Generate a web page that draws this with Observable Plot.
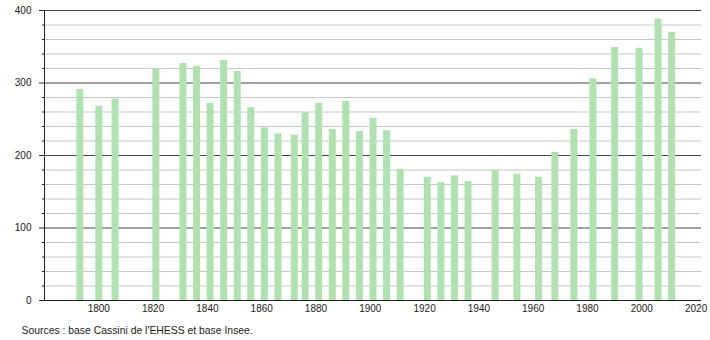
<!DOCTYPE html>
<html>
<head>
<meta charset="utf-8">
<script src="https://cdn.jsdelivr.net/npm/d3@7"></script>
<script src="https://cdn.jsdelivr.net/npm/@observablehq/plot@0.6"></script>
<style>
  html, body { margin: 0; padding: 0; background: white; }
</style>
</head>
<body>
<div id="chart"></div>
<script>
const years = [1793,1800,1806,1821,1831,1836,1841,1846,1851,1856,1861,1866,1872,1876,1881,1886,1891,1896,1901,1906,1911,1921,1926,1931,1936,1946,1954,1962,1968,1975,1982,1990,1999,2006,2011];
const population = [291,268,278,320,327,323,272,331,316,266,238,230,228,259,272,236,275,233,251,234,181,170,163,172,164,179,174,170,204,236,306,349,348,388,370];
const yMajorTicks = [0,100,200,300,400];
const yMinorTicks = [20,40,60,80,120,140,160,180,220,240,260,280,320,340,360,380];
const xTicks = [1800,1820,1840,1860,1880,1900,1920,1940,1960,1980,2000,2020];
const caption = "Sources : base Cassini de l'EHESS et base Insee.";

const data = years.map((year, i) => ({year, pop: population[i]}));

const chart = Plot.plot({
  width: 710,
  height: 340,
  marginLeft: 44,
  marginRight: 9,
  marginTop: 10,
  marginBottom: 40,
  style: {fontFamily: "'Liberation Sans', Arial, sans-serif", fontSize: "10px", color: "#222", background: "white"},
  x: {domain: [1780, 2022]},
  y: {domain: [0, 400]},
  marks: [
    Plot.ruleY(yMinorTicks, {stroke: "#c6c6c6", strokeWidth: 1}),
    Plot.ruleY(yMajorTicks, {stroke: "#444", strokeWidth: 1}),
    Plot.ruleX(data, {x: "year", y1: 0, y2: "pop", stroke: "#b0e2b0", strokeWidth: 7}),
    Plot.ruleX([1780], {stroke: "#222", strokeWidth: 1}),
    Plot.ruleY([0], {stroke: "#222", strokeWidth: 1}),
    Plot.axisY(yMajorTicks, {tickSize: 5, tickPadding: 8, tickFormat: d => String(d), label: null, stroke: "#222"}),
    Plot.axisY(yMinorTicks, {tickSize: 2, tickFormat: () => "", label: null, stroke: "#222"}),
    Plot.axisX(xTicks, {tickSize: 0, tickPadding: 4, tickFormat: d => String(d), label: null}),
    Plot.text([caption], {text: d => d, frameAnchor: "bottom-left", dx: -23, dy: 30, textAnchor: "start", lineAnchor: "middle", fill: "#222", fontSize: 10.4})
  ]
});
document.getElementById("chart").appendChild(chart);
</script>
</body>
</html>
